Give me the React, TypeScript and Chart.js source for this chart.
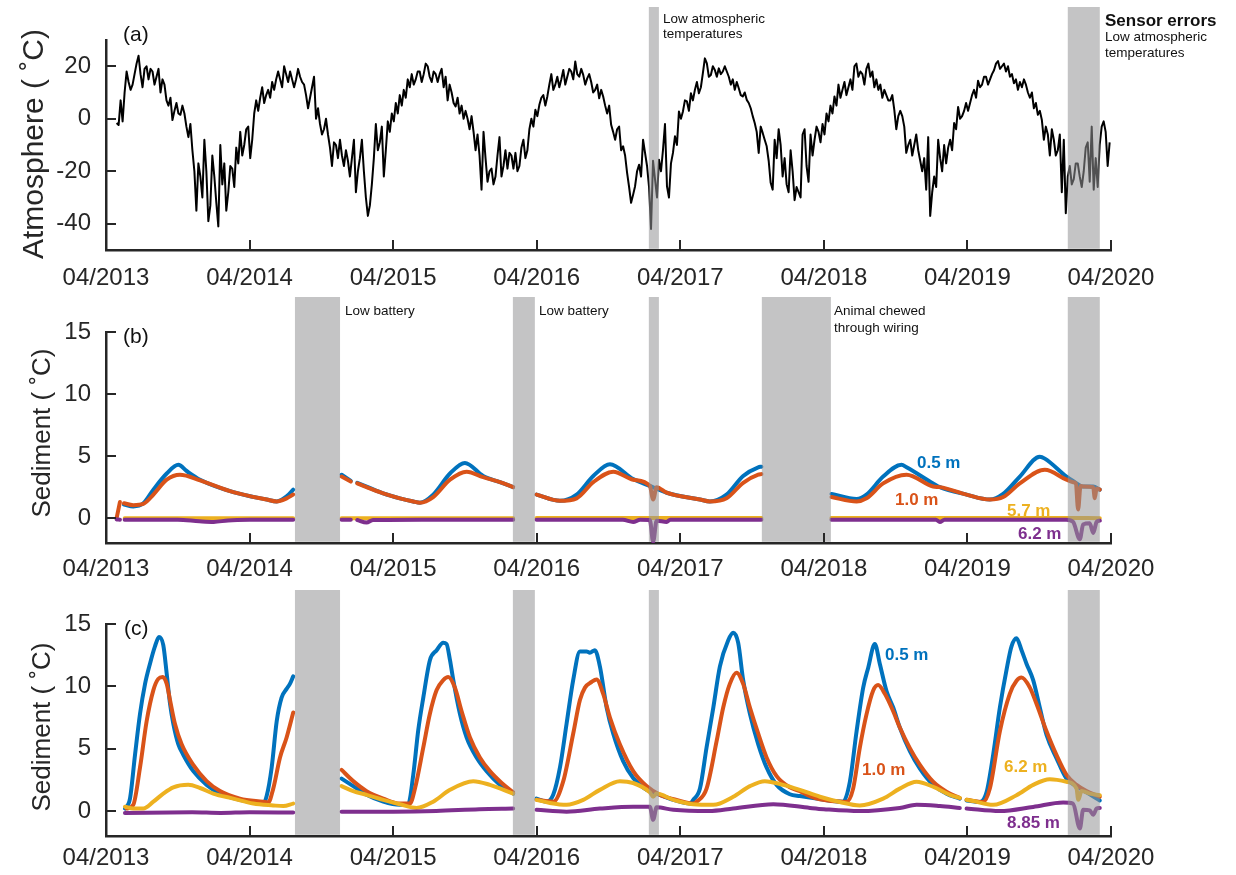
import React, { useEffect, useRef } from 'react';
import { Chart, registerables } from 'chart.js';

Chart.register(...registerables);

// ---------- shared axis data ----------
const YEAR_TICKS = [0, 1, 2, 3, 4, 5, 6, 7]; // years since 04/2013
const YEAR_LABELS = ['04/2013', '04/2014', '04/2015', '04/2016', '04/2017', '04/2018', '04/2019', '04/2020'];
const ATM_TICKS = [-40, -20, 0, 20];
const SED_TICKS = [0, 5, 10, 15];

// ---------- (a) atmosphere, roughly every 5 days ----------
const atmStart = 0.074;
const atmStep = 1 / 72;
const atmTemp = [
  -1.6, -2.4, 7, -1, 10, 18, 14, 11, 13, 17, 21, 24, 17, 12, 19, 20, 15, 19, 18, 13,
  16, 19, 10, 15, 13, 7, 5, 8, -0.5, 3, 6, 2, 1.5, 5, 2, -3, -7, -2, -12, -20,
  -35, -17, -22, -30, -8, -20, -39, -33, -14, -22, -32, -41, -10, -25, -17, -35, -28, -18, -19, -26,
  -11, -17, -5, -14, -10, -4, -3, -15, -8, 2, 7, 3, 8, 12, 6, 9, 11, 8, 14, 11,
  15, 18, 15, 12, 20, 17, 14, 18, 15, 12, 15, 19, 16, 14, 13, 9, 4, 8, 12, 16,
  0, 4, -2, -6, -4, 0, -6, -11, -18, -9, -10, -15, -8, -14, -18, -12, -16, -22, -15, -8,
  -28, -20, -15, -8, -20, -30, -37, -33, -25, -15, -2, -12, -9, -3, -22, -12, -1, -5, 2, -1,
  6, 2, 9, 5, 11, 8, 15, 12, 17, 13, 15, 18, 18, 14, 17, 21, 20, 16, 14, 18,
  17, 14, 17, 19, 12, 16, 7, 13, 10, 6, 4.7, 8, 2, 5, 0, 3, 0, -4, 1, -5,
  -12, -6, -14, -27, -5, -15, -24, -20, -19, -25, -22, -14, -7, -22, -18, -12, -19, -13, -14, -19,
  -13, -20, -18, -11, -8, -15, -12, -4, 0, -3, 3.4, 1, 5.3, 8, 9, 5, 8.5, 13, 17, 11,
  13, 16, 12, 15, 18.6, 13, 16, 19, 18, 15, 21.8, 17, 16, 19, 16.7, 13, 15.4, 17, 14, 10,
  11, 13, 7.8, 11, 8.5, 5, 2, 5, -2.3, -5, -8, -4, -3, -12, -10.5, -14, -20.6, -26, -32, -29,
  -25.7, -20, -17.5, -22, -8, -13, -18, -26, -42, -16, -23, -30, -15.6, -20, -11.8, -2, -25.7, -30, -17, -13,
  -6.7, -10, 2.8, 0, 2.8, 7, 6.6, 3, 9.7, 7, 11, 14, 9.7, 12, 17.4, 23, 21.1, 16, 16.7, 20,
  18.6, 16, 19.2, 17, 18, 20, 18, 16, 13, 15, 11, 14, 11.6, 9, 8.5, 10, 7.2, 6, 4, 1,
  -1.6, -5, -13, -3, -5.4, -8, -10.5, -16, -24.4, -27, -8, -15, -4, -10, -22, -15, -25, -28, -12, -20,
  -31, -26, -28, -30, -6, -4, -18, -24, -6, -14, -8, -3, -5, -9, -2, -6, 2, -1, 5, 2,
  8.5, 5, 13, 8, 11, 14, 9, 12, 15, 11, 20, 21, 16, 18, 17, 13, 19, 21, 16, 18,
  12, 15, 11, 13, 8, 11, 9, 7, 7, 9, 3.4, -4, 1, 3, 1, -3, -13, -10, -8, -14,
  -10, -6, -12, -16, -20, -15, -27, -7, -37, -28, -22, -26, -8, -15, -20, -10, -17, -11, -8, -12,
  -1.6, -4, 4.5, 0, 1, 3, 6, 3, 6, 9, 11, 8, 14.5, 12, 13, 16, 16, 13, 15, 17,
  18.5, 21, 22, 19, 20, 21, 18, 20, 16, 17, 13.5, 15, 11, 14, 12, 15, 13, 10, 8, 10,
  4, 6, 1.5, 3, -0.5, -8, -3, -6, -14, -4, -8, -14, -12, -6, -28, -8, -36, -22, -18, -25,
  -23, -17, -17, -22, -26, -20, -11, -9, -24, -3, -27, -15, -26, -10, -3, -1, -5, -18, -9,
];

// ---------- (b) sediment, [years since 04/2013, degC], null = no data ----------
const b05 = [
  [0.125, 1.1], [0.19, 0.95], [0.26, 1.2], [0.33, 2.3], [0.423, 3.6], [0.504, 4.3], [0.562, 3.8], [0.655, 3.1], [0.887, 2.1], [1.119, 1.5], [1.189, 1.35], [1.258, 1.75], [1.304, 2.3],
  [1.47, null],
  [1.641, 3.5], [1.705, 3.0], [1.73, null], [1.75, 2.85], [1.815, 2.55], [1.931, 2.0], [2.047, 1.6], [2.14, 1.35], [2.187, 1.25], [2.279, 1.9], [2.396, 3.6], [2.5, 4.45], [2.627, 3.4], [2.744, 2.9], [2.836, 2.5],
  [2.91, null],
  [2.999, 1.9], [3.162, 1.4], [3.278, 1.9], [3.394, 3.4], [3.51, 4.35], [3.672, 3.15], [3.788, 2.6], [3.905, 2.05], [4.137, 1.5], [4.206, 1.35], [4.322, 1.9], [4.438, 3.4], [4.543, 4.1], [4.565, 4.15],
  [4.8, null],
  [5.053, 1.95], [5.228, 1.55], [5.297, 1.9], [5.413, 3.35], [5.541, 4.3], [5.576, 4.1], [5.761, 2.8], [5.808, 2.5], [5.994, 1.9], [6.156, 1.5], [6.249, 1.95], [6.365, 3.35], [6.504, 4.95], [6.539, 4.8], [6.69, 3.35], [6.736, 3.0], [6.806, 2.55], [6.876, 2.55], [6.922, 2.3],
];
const b10 = [
  [0.074, 0.0], [0.097, 1.3], [0.105, null], [0.125, 1.2], [0.19, 1.05], [0.26, 1.15], [0.33, 1.9], [0.423, 3.1], [0.515, 3.5], [0.655, 3.05], [0.887, 2.1], [1.119, 1.5], [1.189, 1.35], [1.258, 1.6], [1.304, 1.9],
  [1.47, null],
  [1.641, 3.35], [1.705, 2.95], [1.73, null], [1.75, 2.8], [1.815, 2.5], [1.931, 2.0], [2.047, 1.6], [2.14, 1.35], [2.187, 1.25], [2.279, 1.7], [2.396, 3.1], [2.512, 3.75], [2.627, 3.3], [2.744, 2.9], [2.836, 2.5],
  [2.91, null],
  [2.999, 1.9], [3.162, 1.4], [3.278, 1.6], [3.394, 2.9], [3.533, 3.75], [3.672, 3.1], [3.788, 2.6], [3.811, 1.5], [3.835, 2.5], [3.905, 2.05], [4.137, 1.5], [4.206, 1.35], [4.322, 1.6], [4.438, 2.85], [4.543, 3.5], [4.565, 3.55],
  [4.8, null],
  [5.053, 1.7], [5.228, 1.35], [5.297, 1.6], [5.413, 2.8], [5.576, 3.5], [5.761, 2.55], [5.808, 2.5], [5.994, 1.9], [6.156, 1.5], [6.249, 1.7], [6.365, 2.8], [6.539, 3.9], [6.69, 3.1], [6.736, 2.9], [6.755, 2.8], [6.771, 0.7], [6.788, 2.6], [6.806, 2.55], [6.876, 2.5], [6.887, 1.6], [6.9, 2.4], [6.922, 2.3],
];
const b57 = [
  [0.13, 0.0], [1.304, 0.0], [1.47, null], [1.641, 0.0], [2.836, 0.0], [2.91, null], [2.999, 0.02], [4.565, 0.02], [4.8, null], [5.053, 0.02], [6.69, 0.02], [6.922, 0.0],
];
const b62 = [
  [0.074, -0.1], [0.097, -0.12], [0.105, null], [0.13, -0.12], [0.5, -0.13], [0.65, -0.25], [0.75, -0.3], [0.85, -0.18], [1.0, -0.13], [1.304, -0.12],
  [1.47, null],
  [1.641, -0.12], [1.705, -0.12], [1.73, null], [1.75, -0.15], [1.815, -0.35], [1.86, -0.15], [2.2, -0.12], [2.836, -0.12],
  [2.91, null],
  [2.999, -0.12], [3.6, -0.13], [3.672, -0.3], [3.72, -0.13], [3.788, -0.15], [3.811, -1.9], [3.835, -0.2], [3.905, -0.3], [3.93, -0.13], [4.565, -0.12],
  [4.8, null],
  [5.053, -0.12], [5.78, -0.12], [5.808, -0.3], [5.84, -0.12], [6.69, -0.12], [6.736, -0.3], [6.783, -1.7], [6.806, -0.5], [6.852, -0.4], [6.876, -1.2], [6.9, -0.3], [6.922, -0.2],
];

// ---------- (c) sediment ----------
const c05 = [
  [0.132, 0.2], [0.167, 1.0], [0.202, 4.5], [0.237, 7.8], [0.272, 10.2], [0.306, 11.8], [0.341, 13.2], [0.369, 13.95], [0.399, 13.3], [0.423, 11.0], [0.446, 8.6], [0.469, 7.0], [0.504, 5.35], [0.539, 4.5], [0.608, 3.2], [0.701, 2.1], [0.794, 1.4], [0.933, 0.9], [1.096, 0.6], [1.119, 1.2], [1.154, 3.5], [1.189, 7.2], [1.223, 9.1], [1.258, 9.8], [1.281, 10.2], [1.304, 10.8],
  [1.47, null],
  [1.641, 2.6], [1.722, 2.0], [1.815, 1.3], [1.931, 0.75], [2.047, 0.5], [2.105, 0.55], [2.14, 2.9], [2.175, 6.5], [2.21, 9.1], [2.256, 12.1], [2.303, 12.9], [2.349, 13.5], [2.372, 13.4], [2.396, 12.1], [2.419, 10.5], [2.465, 7.8], [2.512, 5.9], [2.581, 4.3], [2.651, 3.2], [2.744, 2.1], [2.836, 1.4],
  [2.91, null],
  [2.999, 1.0], [3.069, 0.75], [3.115, 1.3], [3.162, 3.5], [3.208, 7.0], [3.254, 10.5], [3.301, 12.8], [3.347, 12.8], [3.37, 12.7], [3.405, 12.9], [3.44, 11.6], [3.487, 8.3], [3.533, 6.2], [3.602, 4.0], [3.672, 2.65], [3.765, 1.7], [3.858, 1.3], [3.951, 0.9], [4.067, 0.6], [4.09, 0.9], [4.137, 1.8], [4.183, 5.1], [4.23, 8.3], [4.276, 11.6], [4.334, 13.7], [4.369, 14.3], [4.403, 13.5], [4.438, 10.5], [4.485, 7.8], [4.543, 5.35], [4.601, 3.5], [4.671, 2.1], [4.763, 1.35], [4.833, 1.2], [4.949, 1.0], [5.134, 0.75], [5.181, 2.35], [5.228, 6.4], [5.274, 9.9], [5.309, 11.5], [5.355, 13.4], [5.39, 11.8], [5.437, 9.6], [5.483, 8.3], [5.529, 6.7], [5.599, 4.8], [5.669, 3.4], [5.761, 2.1], [5.854, 1.4], [5.947, 1.0],
  [5.97, null],
  [5.994, 0.85], [6.086, 0.73], [6.133, 1.5], [6.179, 4.5], [6.226, 8.3], [6.272, 11.3], [6.307, 13.2], [6.342, 13.85], [6.377, 12.9], [6.412, 11.8], [6.458, 10.5], [6.504, 8.3], [6.551, 6.1], [6.62, 4.25], [6.69, 2.6], [6.76, 2.0], [6.829, 1.5], [6.922, 0.85],
];
const c10 = [
  [0.144, 0.2], [0.19, 0.5], [0.237, 3.5], [0.283, 7.2], [0.33, 9.7], [0.364, 10.6], [0.395, 10.75], [0.423, 10.2], [0.446, 8.9], [0.48, 7.0], [0.527, 5.35], [0.608, 3.7], [0.701, 2.4], [0.794, 1.6], [0.933, 1.0], [1.096, 0.75], [1.13, 0.7], [1.165, 1.8], [1.212, 4.3], [1.258, 5.9], [1.304, 7.9],
  [1.47, null],
  [1.641, 3.3], [1.722, 2.4], [1.815, 1.6], [1.931, 1.0], [2.047, 0.6], [2.117, 0.6], [2.152, 1.8], [2.21, 5.1], [2.256, 7.8], [2.303, 9.7], [2.349, 10.5], [2.384, 10.75], [2.43, 9.9], [2.477, 8.0], [2.535, 5.9], [2.604, 4.3], [2.674, 3.2], [2.756, 2.25], [2.836, 1.5],
  [2.91, null],
  [2.999, 0.9], [3.115, 0.75], [3.185, 2.4], [3.254, 6.2], [3.301, 8.9], [3.336, 9.9], [3.382, 10.35], [3.417, 10.55], [3.463, 9.4], [3.51, 7.5], [3.579, 5.35], [3.672, 3.2], [3.765, 2.0], [3.858, 1.3], [3.974, 0.9], [4.09, 0.6], [4.114, 0.75], [4.183, 1.8], [4.253, 5.6], [4.299, 8.3], [4.345, 10.2], [4.392, 11.1], [4.438, 10.2], [4.485, 8.3], [4.543, 6.2], [4.601, 4.3], [4.671, 2.8], [4.763, 1.9], [4.833, 1.6], [4.903, 1.2], [4.972, 0.95], [5.157, 0.73], [5.204, 1.8], [5.25, 5.05], [5.297, 7.75], [5.343, 9.65], [5.378, 10.1], [5.425, 9.4], [5.483, 8.0], [5.529, 6.7], [5.599, 5.05], [5.669, 3.7], [5.761, 2.35], [5.854, 1.55], [5.947, 1.05],
  [5.97, null],
  [5.994, 0.9], [6.109, 0.73], [6.156, 1.8], [6.226, 6.4], [6.295, 9.4], [6.342, 10.45], [6.377, 10.7], [6.435, 9.9], [6.481, 8.6], [6.551, 6.4], [6.62, 4.5], [6.69, 2.9], [6.76, 2.1], [6.829, 1.6], [6.922, 1.15],
];
const c62 = [
  [0.132, 0.35], [0.19, 0.2], [0.26, 0.2], [0.33, 0.75], [0.399, 1.4], [0.469, 1.9], [0.573, 2.1], [0.655, 1.85], [0.747, 1.4], [0.887, 1.0], [1.026, 0.6], [1.165, 0.45], [1.235, 0.4], [1.304, 0.6],
  [1.47, null],
  [1.641, 2.0], [1.722, 1.6], [1.815, 1.3], [1.931, 0.9], [2.047, 0.55], [2.163, 0.25], [2.279, 0.75], [2.396, 1.7], [2.558, 2.4], [2.674, 2.1], [2.836, 1.4],
  [2.91, null],
  [2.999, 0.9], [3.092, 0.65], [3.208, 0.5], [3.324, 0.9], [3.44, 1.7], [3.579, 2.4], [3.672, 2.25], [3.788, 1.5], [3.811, 1.15], [3.835, 1.4], [3.951, 0.9], [4.09, 0.55], [4.23, 0.5], [4.369, 1.15], [4.485, 2.0], [4.589, 2.4], [4.717, 2.1], [4.833, 1.7], [4.972, 1.15], [5.111, 0.73], [5.25, 0.45], [5.413, 1.0], [5.529, 1.8], [5.646, 2.35], [5.761, 1.95], [5.877, 1.3], [5.947, 1.05],
  [5.97, null],
  [5.994, 0.9], [6.04, 0.8], [6.179, 0.5], [6.342, 1.27], [6.458, 2.1], [6.574, 2.55], [6.69, 2.35], [6.76, 1.8], [6.772, 0.9], [6.795, 1.6], [6.852, 1.4], [6.922, 1.27],
];
const c885 = [
  [0.132, -0.15], [0.6, -0.1], [0.8, -0.15], [1.0, -0.1], [1.304, -0.12],
  [1.47, null],
  [1.641, -0.05], [2.0, -0.05], [2.3, 0.0], [2.6, 0.15], [2.836, 0.2],
  [2.91, null],
  [2.999, 0.1], [3.208, -0.05], [3.44, 0.2], [3.672, 0.35], [3.788, 0.35], [3.811, -0.7], [3.835, 0.3], [3.951, 0.1], [4.2, 0.0], [4.369, 0.2], [4.648, 0.55], [4.903, 0.25], [5.0, 0.15], [5.25, 0.0], [5.529, 0.25], [5.646, 0.5], [5.808, 0.4], [5.947, 0.25],
  [5.97, null],
  [5.994, 0.2], [6.226, 0.0], [6.458, 0.33], [6.667, 0.68], [6.736, 0.6], [6.783, -1.4], [6.806, 0.1], [6.852, 0.05], [6.876, -0.3], [6.9, 0.2], [6.922, 0.25],
];

// ---------- data-gap periods [start, end] in years since 04/2013 ----------
const bandsA = [[3.781, 3.851], [6.699, 6.922]];
const bandsB = [[1.316, 1.63], [2.834, 2.987], [3.781, 3.851], [4.568, 5.049], [6.699, 6.922]];
const bandsC = [[1.316, 1.63], [2.834, 2.987], [3.781, 3.851], [6.699, 6.922]];

// ---------- styling ----------
const FONT = "'Liberation Sans', Arial, Helvetica, sans-serif";
const INK = '#262626';
const BLUE = '#0072BD';
const ORANGE = '#D95319';
const YELLOW = '#EDB120';
const PURPLE = '#7E2F8E';
const BAND_FILL = 'rgba(148,148,150,0.55)';
const W = 1236;
const AREA_LEFT = 106;
const AREA_RIGHT = 1111;

const toPts = (arr: any[]) => arr.map(([x, y]) => ({ x, y }));
const atmPts = atmTemp.map((v, k) => ({ x: atmStart + k * atmStep, y: v }));

const sedLine = (data: any[], color: string) => ({
  data: toPts(data), borderColor: color, borderWidth: 4, pointRadius: 0, fill: false,
  cubicInterpolationMode: 'monotone', spanGaps: false, borderCapStyle: 'round', borderJoinStyle: 'round',
});

const PANELS: any[] = [
  {
    top: 0, height: 290, areaTop: 40, xAxisH: 40, xLabelPad: 14,
    yMin: -50, yMax: 30, yTicks: ATM_TICKS, bands: bandsA, bandTop: 7,
    datasets: [{ data: atmPts, borderColor: '#000', borderWidth: 2, pointRadius: 0, fill: false, tension: 0, borderJoinStyle: 'round' }],
    title: { text: 'Atmosphere ( \u02DAC)', cx: 35, cy: 144, size: 30 },
    texts: [
      { t: '(a)', x: 123, y: 41, s: 21 },
      { t: 'Low atmospheric', x: 663, y: 23, s: 13.5 },
      { t: 'temperatures', x: 663, y: 38, s: 13.5 },
      { t: 'Sensor errors', x: 1105, y: 26, s: 17, b: true },
      { t: 'Low atmospheric', x: 1105, y: 41, s: 13.5 },
      { t: 'temperatures', x: 1105, y: 57, s: 13.5 },
    ],
  },
  {
    top: 290, height: 290, areaTop: 42, xAxisH: 37, xLabelPad: 12,
    yMin: -2, yMax: 15, yTicks: SED_TICKS, bands: bandsB, bandTop: 7,
    datasets: [sedLine(b62, PURPLE), sedLine(b57, YELLOW), sedLine(b10, ORANGE), sedLine(b05, BLUE)],
    title: { text: 'Sediment ( \u02DAC)', cx: 43, cy: 143, size: 26 },
    texts: [
      { t: '(b)', x: 123, y: 53, s: 21 },
      { t: 'Low battery', x: 345, y: 25, s: 13.5 },
      { t: 'Low battery', x: 539, y: 25, s: 13.5 },
      { t: 'Animal chewed', x: 834, y: 25, s: 13.5 },
      { t: 'through wiring', x: 834, y: 42, s: 13.5 },
      { t: '0.5 m', x: 917, y: 178, s: 17, b: true, c: BLUE },
      { t: '1.0 m', x: 895, y: 215, s: 17, b: true, c: ORANGE },
      { t: '5.7 m', x: 1007, y: 226, s: 17, b: true, c: YELLOW },
      { t: '6.2 m', x: 1018, y: 249, s: 17, b: true, c: PURPLE },
    ],
  },
  {
    top: 580, height: 295, areaTop: 44, xAxisH: 39, xLabelPad: 8,
    yMin: -2, yMax: 15, yTicks: SED_TICKS, bands: bandsC, bandTop: 10,
    datasets: [sedLine(c885, PURPLE), sedLine(c62, YELLOW), sedLine(c10, ORANGE), sedLine(c05, BLUE)],
    title: { text: 'Sediment ( \u02DAC)', cx: 43, cy: 147, size: 26 },
    texts: [
      { t: '(c)', x: 124, y: 55, s: 21 },
      { t: '0.5 m', x: 885, y: 80, s: 17, b: true, c: BLUE },
      { t: '1.0 m', x: 862, y: 195, s: 17, b: true, c: ORANGE },
      { t: '6.2 m', x: 1004, y: 192, s: 17, b: true, c: YELLOW },
      { t: '8.85 m', x: 1007, y: 248, s: 17, b: true, c: PURPLE },
    ],
  },
];

const decor = (p: any) => ({
  id: 'decor',
  afterDatasetsDraw(chart: any) {
    const { ctx, chartArea, scales } = chart;
    const xs = scales.x;
    ctx.save();
    ctx.fillStyle = BAND_FILL;
    for (const [a, b] of p.bands) {
      const x0 = xs.getPixelForValue(a);
      const x1 = xs.getPixelForValue(b);
      ctx.fillRect(x0, p.bandTop, x1 - x0, chartArea.bottom - 1.2 - p.bandTop);
    }
    ctx.restore();
  },
  afterDraw(chart: any) {
    const { ctx, chartArea, scales } = chart;
    const xs = scales.x;
    const ys = scales.y;
    ctx.save();
    ctx.strokeStyle = INK;
    ctx.lineWidth = 2;
    ctx.beginPath();
    for (const v of YEAR_TICKS) {
      const x = Math.round(xs.getPixelForValue(v));
      ctx.moveTo(x, chartArea.bottom);
      ctx.lineTo(x, chartArea.bottom - 10);
    }
    for (const v of p.yTicks) {
      const y = Math.round(ys.getPixelForValue(v));
      ctx.moveTo(chartArea.left, y);
      ctx.lineTo(chartArea.left + 10, y);
    }
    ctx.stroke();

    ctx.textBaseline = 'alphabetic';
    ctx.textAlign = 'left';
    for (const t of p.texts) {
      ctx.font = `${t.b ? 'bold ' : ''}${t.s}px ${FONT}`;
      ctx.fillStyle = t.c || '#111';
      ctx.fillText(t.t, t.x, t.y);
    }
    ctx.save();
    ctx.translate(p.title.cx, p.title.cy);
    ctx.rotate(-Math.PI / 2);
    ctx.font = `${p.title.size}px ${FONT}`;
    ctx.fillStyle = INK;
    ctx.textAlign = 'center';
    ctx.textBaseline = 'middle';
    ctx.fillText(p.title.text, 0, 0);
    ctx.restore();
    ctx.restore();
  },
});

function build(canvas: HTMLCanvasElement, p: any) {
  return new Chart(canvas, {
    type: 'line',
    data: { datasets: p.datasets },
    options: {
      responsive: false,
      animation: false,
      devicePixelRatio: 1,
      events: [],
      layout: { padding: { left: 0, right: W - AREA_RIGHT, top: p.areaTop, bottom: 0 } },
      plugins: { legend: { display: false }, tooltip: { enabled: false }, title: { display: false } },
      scales: {
        x: {
          type: 'linear', min: 0, max: 7,
          grid: { display: false, drawTicks: false },
          border: { display: true, color: INK, width: 2.5 },
          afterBuildTicks: (s: any) => { s.ticks = YEAR_TICKS.map((v) => ({ value: v })); },
          afterFit: (s: any) => { s.height = p.xAxisH; },
          ticks: {
            autoSkip: false, maxRotation: 0, minRotation: 0, padding: p.xLabelPad, color: INK,
            font: { family: FONT, size: 24 },
            callback: (_v: any, i: number) => YEAR_LABELS[i],
          },
        },
        y: {
          type: 'linear', min: p.yMin, max: p.yMax,
          grid: { display: false, drawTicks: false },
          border: { display: true, color: INK, width: 2.5 },
          afterBuildTicks: (s: any) => { s.ticks = p.yTicks.map((v: number) => ({ value: v })); },
          afterFit: (s: any) => { s.width = AREA_LEFT; },
          ticks: {
            autoSkip: false, padding: 15, color: INK,
            font: { family: FONT, size: 24 },
            callback: (v: any) => String(v),
          },
        },
      },
    } as any,
    plugins: [decor(p)],
  } as any);
}

export default function App() {
  const refs = useRef<(HTMLCanvasElement | null)[]>([]);
  useEffect(() => {
    const charts = PANELS.map((p, i) => build(refs.current[i] as HTMLCanvasElement, p));
    return () => charts.forEach((c) => c.destroy());
  }, []);
  return (
    <div style={{ position: 'absolute', left: 0, top: 0, width: W, height: 875, background: '#fff', overflow: 'hidden' }}>
      {PANELS.map((p, i) => (
        <canvas
          key={i}
          ref={(el) => { refs.current[i] = el; }}
          width={W}
          height={p.height}
          style={{ position: 'absolute', left: 0, top: p.top, width: W, height: p.height }}
        />
      ))}
    </div>
  );
}
